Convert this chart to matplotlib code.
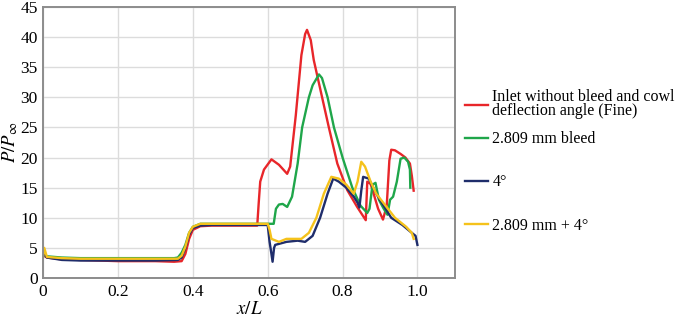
import matplotlib.pyplot as plt
from matplotlib.lines import Line2D

plt.rcParams['font.family'] = ['Liberation Serif', 'DejaVu Serif']
plt.rcParams['mathtext.fontset'] = 'stix'

# Data
red_x = [0.0, 0.01, 0.05, 0.1, 0.2, 0.3, 0.35, 0.37, 0.38, 0.39, 0.40, 0.42, 0.45, 0.5, 0.55, 0.572,
         0.576, 0.58, 0.59, 0.61, 0.63, 0.652, 0.66, 0.675, 0.69, 0.70, 0.705, 0.715, 0.723, 0.741,
         0.763, 0.786, 0.8125, 0.839, 0.862, 0.866, 0.875, 0.883, 0.895, 0.908, 0.918, 0.925, 0.93,
         0.94, 0.955, 0.968, 0.98, 0.985, 0.99]
red_y = [3.8, 3.4, 3.1, 3.0, 2.8, 2.8, 2.7, 2.8, 4.0, 6.5, 8.0, 8.6, 8.7, 8.7, 8.7, 8.7,
         12.5, 16.0, 18.0, 19.7, 18.8, 17.3, 18.5, 27.0, 37.0, 40.5, 41.2, 39.5, 36.2, 31.2,
         25.1, 19.0, 14.6, 11.8, 9.6, 16.0, 15.6, 14.0, 11.5, 9.7, 12.0, 19.5, 21.3,
         21.2, 20.6, 20.0, 19.0, 17.0, 14.5]

green_x = [0.0, 0.01, 0.05, 0.1, 0.2, 0.3, 0.35, 0.36, 0.37, 0.38, 0.39, 0.40, 0.42, 0.45, 0.5, 0.55,
           0.6, 0.616, 0.622, 0.63, 0.64, 0.652, 0.665, 0.68, 0.692, 0.71, 0.72, 0.737, 0.745, 0.76,
           0.777, 0.80, 0.826, 0.848, 0.866, 0.872, 0.88, 0.888, 0.897, 0.91, 0.92, 0.927, 0.935,
           0.945, 0.955, 0.965, 0.975, 0.98, 0.981]
green_y = [4.0, 3.6, 3.4, 3.3, 3.3, 3.3, 3.3, 3.4, 4.2, 5.5, 7.5, 8.5, 9.0, 9.0, 9.0, 9.0,
           9.0, 9.0, 11.5, 12.2, 12.3, 11.8, 13.5, 19.0, 25.0, 30.0, 32.0, 33.8, 33.2, 30.0,
           25.0, 20.0, 15.0, 12.0, 10.8, 11.5, 15.5, 15.8, 13.0, 11.5, 10.5, 13.0, 13.5,
           16.0, 19.8, 20.0, 19.3, 18.0, 15.0]

navy_x = [0.0, 0.01, 0.05, 0.1, 0.2, 0.3, 0.36, 0.37, 0.38, 0.39, 0.40, 0.42, 0.45, 0.5, 0.55, 0.6,
          0.605, 0.608, 0.613, 0.617, 0.62, 0.65, 0.68, 0.70, 0.72, 0.74, 0.76, 0.775, 0.79, 0.81,
          0.83, 0.84, 0.845, 0.85, 0.855, 0.87, 0.89, 0.91, 0.93, 0.96, 0.985, 0.995, 1.0]
navy_y = [4.0, 3.4, 3.0, 2.9, 2.9, 2.9, 3.0, 3.4, 5.0, 7.2, 8.3, 8.7, 8.8, 8.8, 8.8, 8.8,
          6.0, 4.8, 2.7, 5.0, 5.5, 6.0, 6.2, 6.0, 7.0, 10.0, 14.0, 16.5, 16.0, 15.0,
          13.5, 12.5, 11.7, 14.5, 16.8, 16.5, 14.0, 12.0, 10.0, 8.8, 7.5, 7.0, 5.5]

yellow_x = [0.0, 0.003, 0.01, 0.05, 0.1, 0.2, 0.3, 0.36, 0.37, 0.38, 0.39, 0.40, 0.42, 0.45, 0.5, 0.55,
            0.6, 0.605, 0.61, 0.63, 0.65, 0.69, 0.71, 0.73, 0.75, 0.77, 0.79, 0.81, 0.83, 0.84,
            0.85, 0.86, 0.875, 0.89, 0.915, 0.94, 0.97, 0.985, 0.99]
yellow_y = [3.5, 5.0, 3.5, 3.3, 3.2, 3.2, 3.2, 3.2, 3.7, 5.2, 7.5, 8.5, 9.0, 9.0, 9.0, 9.0,
            9.0, 8.0, 6.5, 6.0, 6.5, 6.5, 7.5, 10.0, 14.0, 16.8, 16.5, 15.5, 14.0, 16.0,
            19.3, 18.5, 16.0, 14.0, 12.0, 10.0, 8.5, 7.5, 6.5]

labels = ['Inlet without bleed and cowl\ndeflection angle (Fine)', '2.809 mm bleed',
          '4°', '2.809 mm + 4°']
colors = ['#e8262a', '#1fa64a', '#1f2d6b', '#f5c21b']

fig = plt.figure(figsize=(6.85, 3.17), dpi=100)
ax = fig.add_axes([0.063, 0.123, 0.601, 0.855])

series = [(red_x, red_y), (green_x, green_y), (navy_x, navy_y), (yellow_x, yellow_y)]
for (x, y), c, lab in zip(series, colors, labels):
    ax.plot(x, y, color=c, lw=1.7, label=lab)

ax.set_xlim(0, 1.1)
ax.set_ylim(0, 45)
ax.set_xticks([0, 0.2, 0.4, 0.6, 0.8, 1.0])
ax.set_xticklabels(['0', '0.2', '0.4', '0.6', '0.8', '1.0'])
ax.set_yticks(range(0, 50, 5))
ax.tick_params(length=0, labelsize=12.5, pad=4)
ax.grid(color='#dcdcdc', lw=1)
ax.set_axisbelow(True)
for s in ax.spines.values():
    s.set_color('#8c8c8c')
    s.set_linewidth(1.4)

ax.set_xlabel(r'$x/L$', fontsize=13.5, labelpad=1)
ax.set_ylabel(r'$P/P_\infty$', fontsize=13.5, labelpad=0)

# legend: first (two-line) entry on its own, the rest evenly spaced below
handles = [Line2D([], [], color=c, lw=1.7) for c in colors]
leg_kw = dict(loc='upper left', frameon=False, fontsize=11.5, handlelength=1.4,
              handletextpad=0.3, borderaxespad=0)
leg1 = ax.legend(handles[:1], labels[:1], bbox_to_anchor=(1.01, 0.72), **leg_kw)
for t in leg1.get_texts():
    t.set_linespacing(0.85)
ax.add_artist(leg1)
ax.legend(handles[1:], labels[1:], bbox_to_anchor=(1.01, 0.565), labelspacing=1.7, **leg_kw)

fig.savefig('out.png', dpi=100)
